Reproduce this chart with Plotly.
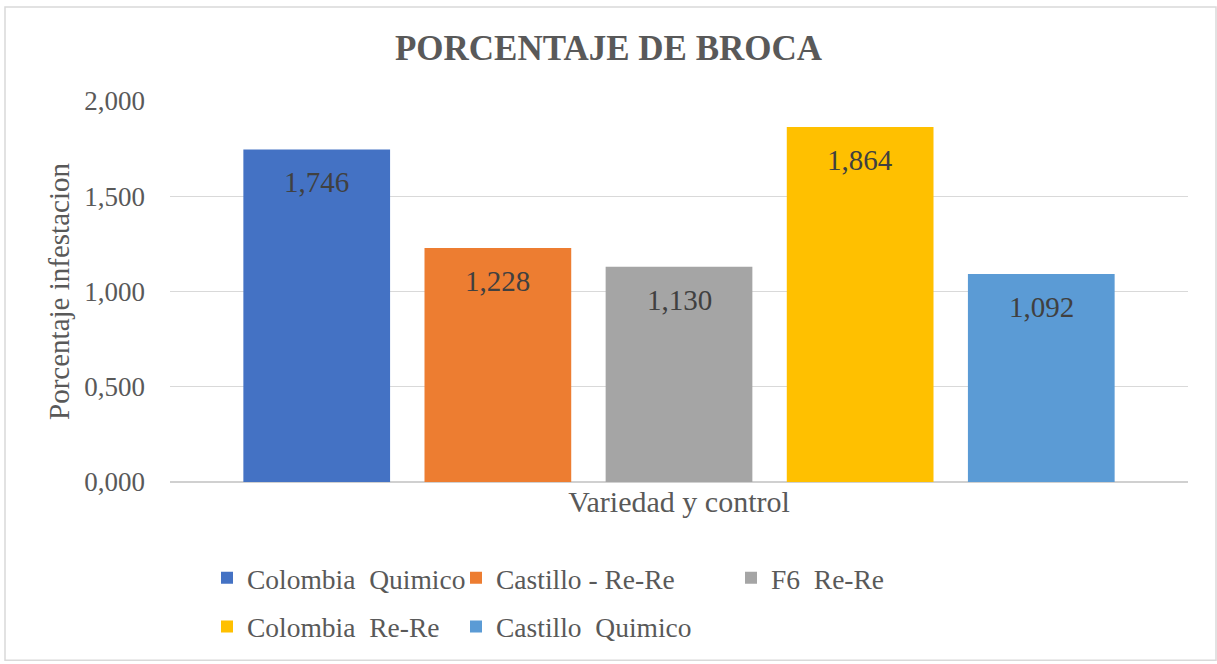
import plotly.graph_objects as go

names = ["Colombia  Quimico", "Castillo - Re-Re", "F6  Re-Re", "Colombia  Re-Re", "Castillo  Quimico"]
values = [1.746, 1.228, 1.130, 1.864, 1.092]
colors = ["#4472C4", "#ED7D31", "#A5A5A5", "#FFC000", "#5B9BD5"]
legend_cols = ["legend", "legend2", "legend3", "legend", "legend2"]
tick_vals = [0.0, 0.5, 1.0, 1.5, 2.0]

FONT = "Liberation Serif, Times New Roman, serif"
GRAY = "#595959"

W, H = 1217, 664
L, R, T, B = 170, 29, 101, 174
pw, ph = W - L - R, H - T - B

fig = go.Figure()
for i, (n, v, c) in enumerate(zip(names, values, colors)):
    fig.add_trace(go.Bar(
        x=[n], y=[v], name=n, marker=dict(color=c, line=dict(width=0)),
        width=0.81, legend=legend_cols[i], legendgroup=n,
        hoverinfo="skip",
    ))
    fig.add_annotation(x=n, y=v, text=f"{v:.3f}".replace(".", ","), showarrow=False,
                       yshift=-33, font=dict(family=FONT, size=29, color="#404040"))

def px2x(p):
    return (p - L) / pw

def px2y(p):
    return (H - B - p) / ph

leg_common = dict(orientation="v", font=dict(family=FONT, size=27.5, color=GRAY),
                  bgcolor="rgba(0,0,0,0)", yanchor="top", xanchor="left",
                  tracegroupgap=10, itemsizing="constant")
fig.update_layout(
    width=W, height=H,
    margin=dict(l=L, r=R, t=T, b=B),
    paper_bgcolor="white", plot_bgcolor="white",
    barmode="overlay",
    separators=",.",
    font=dict(family=FONT, color=GRAY),
    title=dict(text="<b>PORCENTAJE DE BROCA</b>", x=0.5, xanchor="center",
               y=1 - 47.5 / H, yanchor="middle",
               font=dict(family=FONT, size=35, color=GRAY)),
    xaxis=dict(range=[-0.81, 4.81], showticklabels=False, showgrid=False,
               showline=False, zeroline=False, ticks="",
               title=dict(text="Variedad y control", standoff=8,
                          font=dict(family=FONT, size=30, color=GRAY))),
    yaxis=dict(range=[0, 2.0], tickvals=tick_vals, tickformat=".3f",
               showgrid=True, gridcolor="#D9D9D9", gridwidth=1,
               zeroline=True, zerolinecolor="#D0D0D0", zerolinewidth=1.5,
               showline=False, ticks="", ticklabelstandoff=24,
               tickfont=dict(family=FONT, size=27, color=GRAY),
               title=dict(text="Porcentaje infestacion", standoff=6,
                          font=dict(family=FONT, size=29, color=GRAY))),
    legend=dict(x=px2x(207), y=px2y(563), **leg_common),
    legend2=dict(x=px2x(456), y=px2y(563), **leg_common),
    legend3=dict(x=px2x(731), y=px2y(563), **leg_common),
    shapes=[dict(type="rect", xref="paper", yref="paper",
                 x0=px2x(5), x1=px2x(1216), y0=px2y(672), y1=px2y(5),
                 line=dict(color="#D9D9D9", width=1.5), fillcolor="rgba(0,0,0,0)",
                 layer="below")],
)

fig.write_html(
    "out.html", config={"displayModeBar": False},
    post_script=("document.body.style.margin='0';"
                 "document.body.style.overflow='hidden';"
                 "document.documentElement.style.overflow='hidden';"),
)
